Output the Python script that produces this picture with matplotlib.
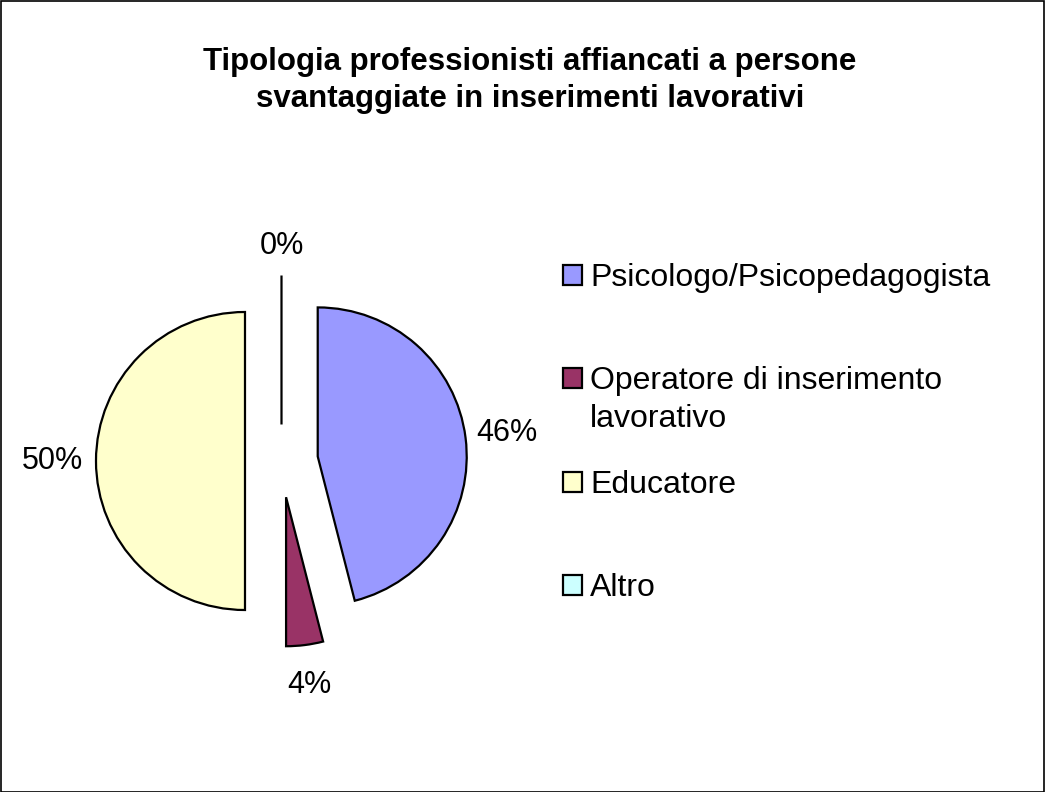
import matplotlib.pyplot as plt
import numpy as np

plt.rcParams['font.family'] = ['Liberation Sans', 'DejaVu Sans']

# data
categories = ['Psicologo/Psicopedagogista', 'Operatore di inserimento', 'Educatore', 'Altro']
second_line = ['', 'lavorativo', '', '']
values = [46, 4, 50, 0]
colors = ['#9999FF', '#993366', '#FFFFCC', '#CCFFFF']
label_dist = [1.28, 1.27, 1.29, 1.2]

fig = plt.figure(figsize=(10.45, 7.92), dpi=100)
W, H = 1045, 792

# pie axes: centre around (281, 461) px, radius ~149 px
L = 1.6
side = 149 * 2 * L
ax = fig.add_axes([(281.5 - side / 2) / W, (H - 461 - side / 2) / H, side / W, side / H])

wedges, _ = ax.pie(values, colors=colors, startangle=90, counterclock=False,
                   explode=[0.245] * 4, radius=1,
                   wedgeprops=dict(edgecolor='black', linewidth=1.6))
ax.set_xlim(-L, L)
ax.set_ylim(-L, L)
ax.set_aspect('equal')
ax.axis('off')

# percentage labels
total = sum(values)
for w, v, d in zip(wedges, values, label_dist):
    th = np.deg2rad((w.theta1 + w.theta2) / 2)
    cx, cy = w.center
    ax.text(cx + d * np.cos(th), cy + d * np.sin(th), '%d%%' % round(100 * v / total),
            ha='center', va='center', fontsize=22)

# legend
leg = fig.legend(wedges, categories, loc='upper left', bbox_to_anchor=(563 / W, 1 - 263 / H),
                 frameon=False, fontsize=23, handlelength=0.6, handleheight=0.6,
                 handletextpad=0.25, labelspacing=2.3, borderpad=0, borderaxespad=0)
for h in leg.legend_handles:
    h.set_linewidth(1.6)

fig.suptitle('Tipologia professionisti affiancati a persone\nsvantaggiate in inserimenti lavorativi',
             x=530 / W, y=1 - 47 / H, fontsize=22.5, fontweight='bold', va='top', linespacing=1.32)

# wrapped part of the long legend label
fig.canvas.draw()
for t, extra in zip(leg.get_texts(), second_line):
    if extra:
        bb = t.get_window_extent()
        fig.text(bb.x0 / W, (bb.y0 - 38) / H, extra, fontsize=23, ha='left', va='bottom')

# border around the chart area
fig.add_artist(plt.Rectangle((0.5 / W, 0.5 / H), 1 - 1.5 / W, 1 - 1.5 / H, transform=fig.transFigure,
                             fill=False, edgecolor='black', linewidth=1.2))

fig.savefig('out.png', dpi=100)
